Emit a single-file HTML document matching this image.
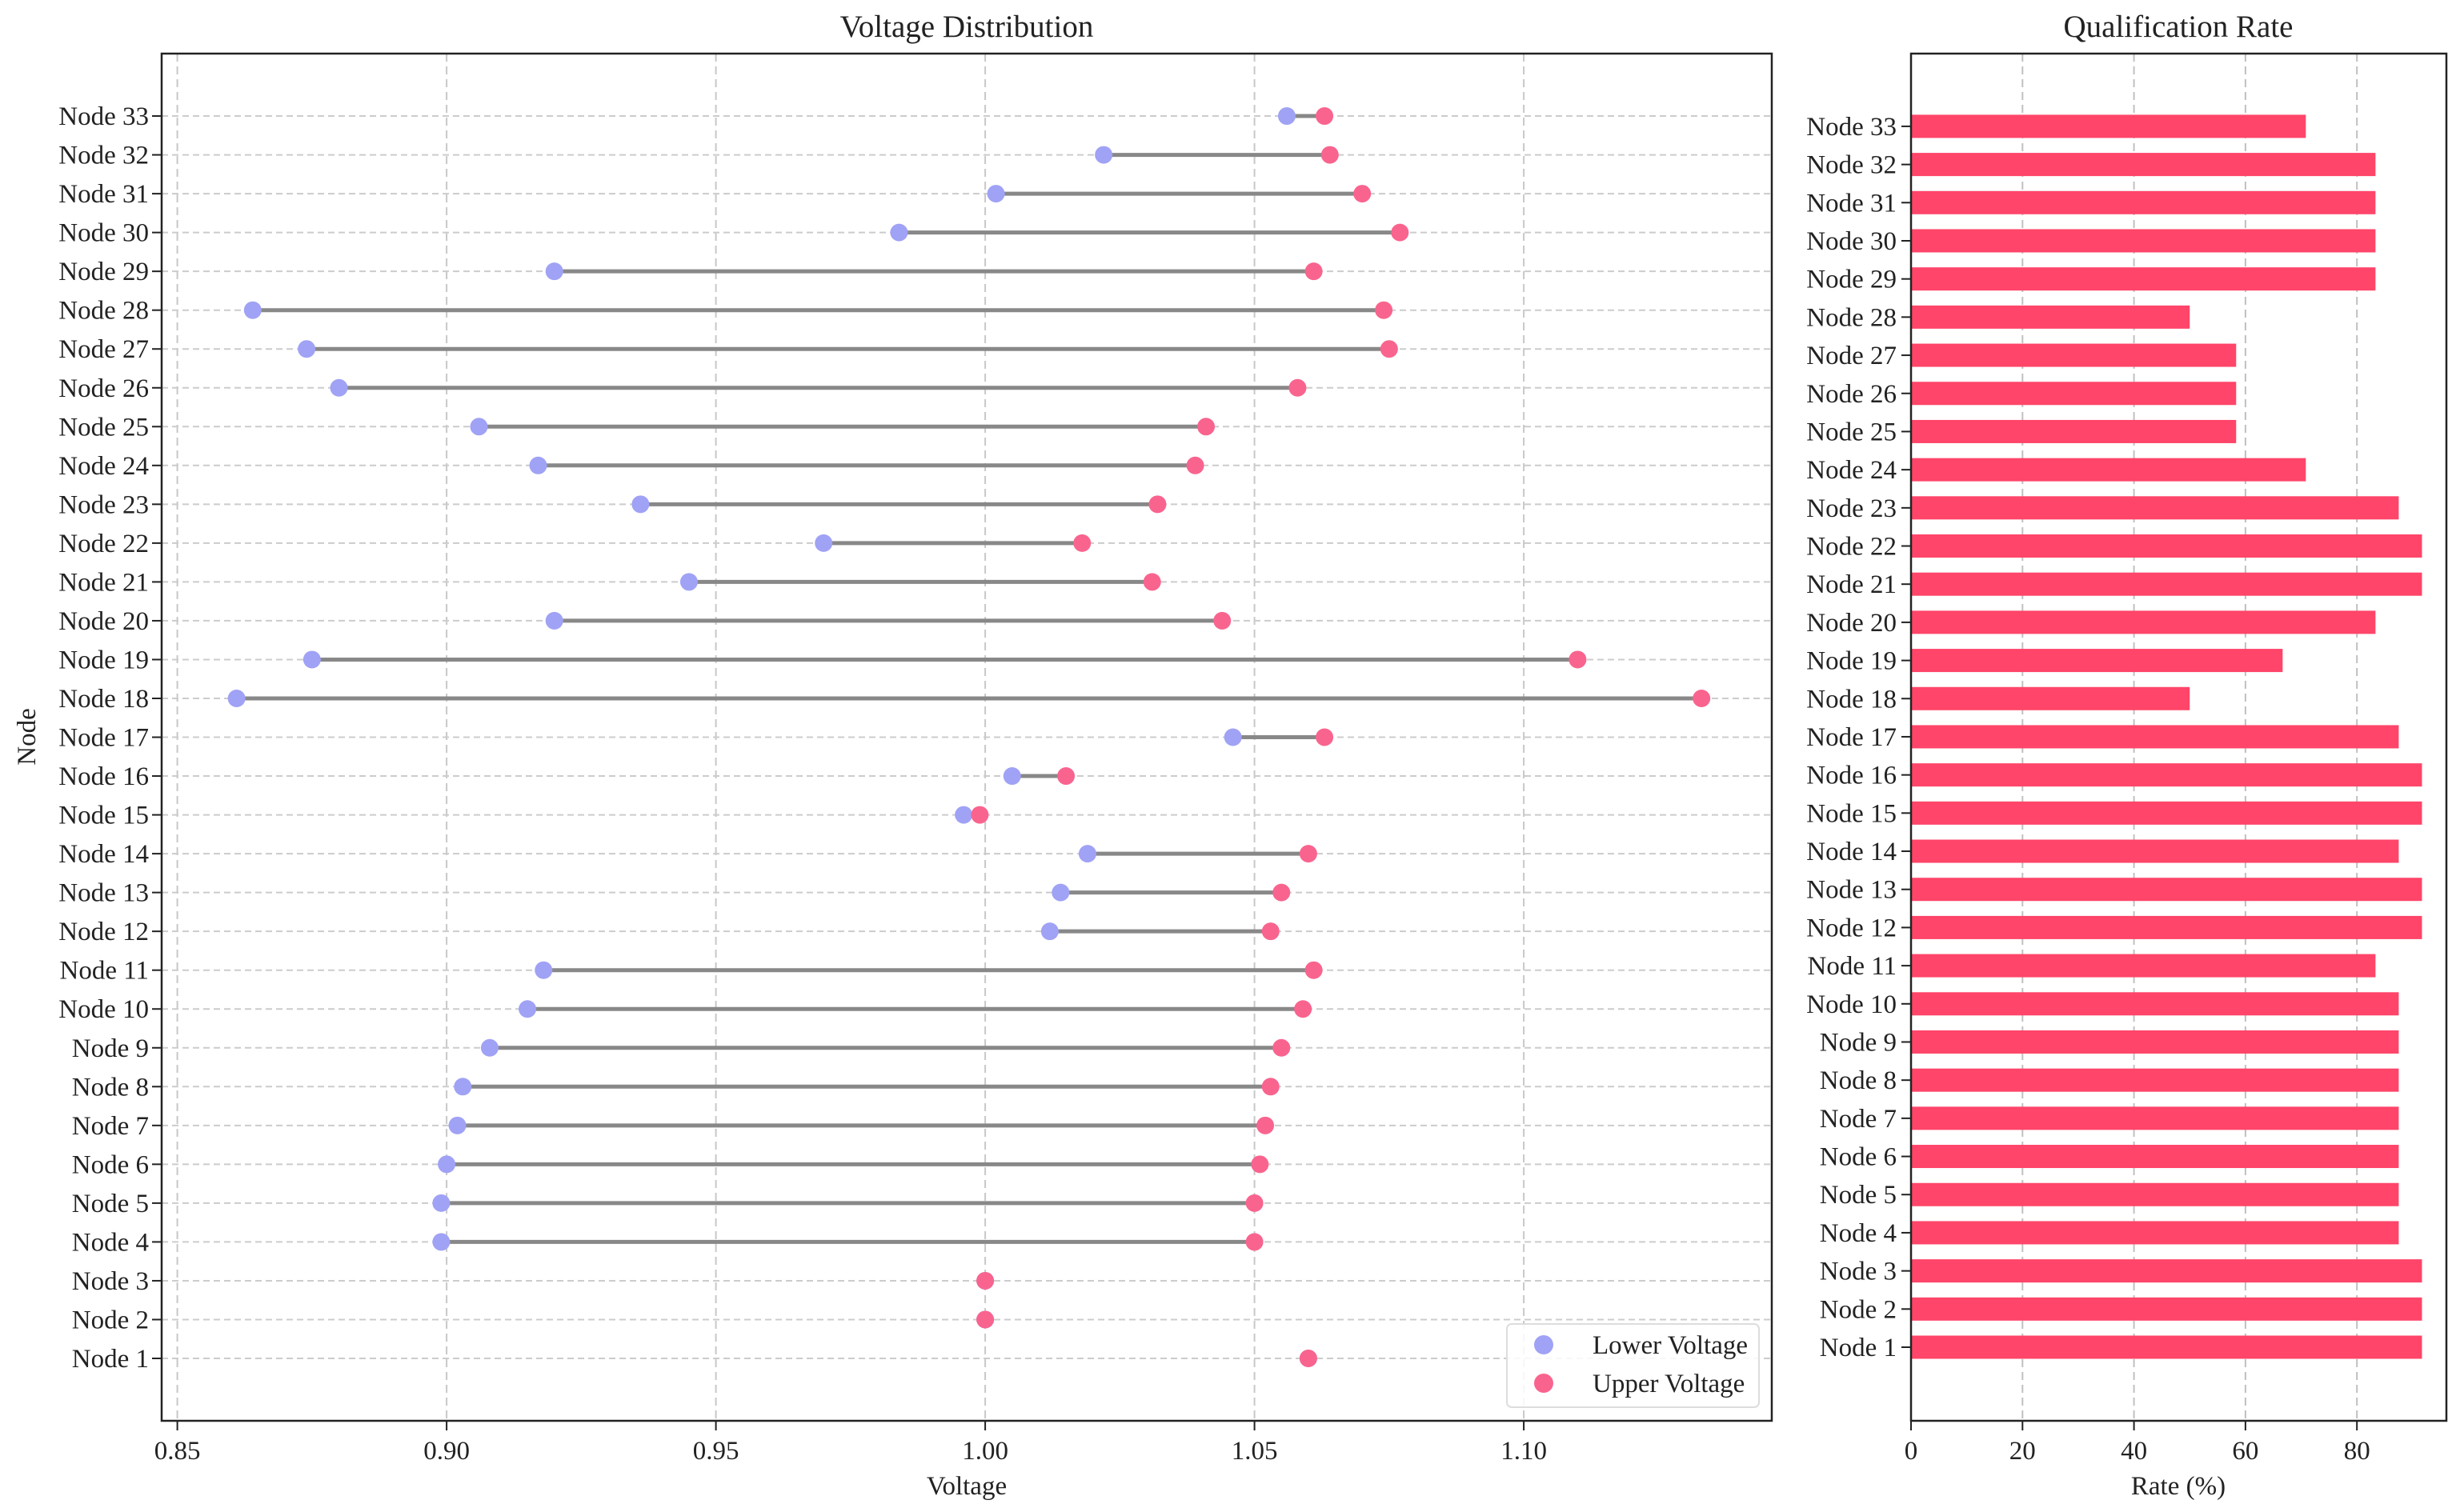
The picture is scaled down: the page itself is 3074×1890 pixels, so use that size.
<!DOCTYPE html>
<html><head><meta charset="utf-8"><style>
html,body{margin:0;padding:0;background:#fff}
svg{display:block}
text{font-family:"Liberation Serif",serif;fill:#222}
</style></head>
<body>
<svg id="chart" width="3074" height="1890" viewBox="0 0 3074 1890" xmlns="http://www.w3.org/2000/svg"></svg>
<script>
const nodes = Array.from({length:33},(_,i)=>'Node '+(i+1));
const lowerV = [1.060,1.000,1.000,0.899,0.899,0.900,0.902,0.903,0.908,0.915,0.918,1.012,1.014,1.019,0.996,1.005,1.046,0.861,0.875,0.920,0.945,0.970,0.936,0.917,0.906,0.880,0.874,0.864,0.920,0.984,1.002,1.022,1.056];
const upperV = [1.060,1.000,1.000,1.050,1.050,1.051,1.052,1.053,1.055,1.059,1.061,1.053,1.055,1.060,0.999,1.015,1.063,1.133,1.110,1.044,1.031,1.018,1.032,1.039,1.041,1.058,1.075,1.074,1.061,1.077,1.070,1.064,1.063];
const rates = [91.67,91.67,91.67,87.5,87.5,87.5,87.5,87.5,87.5,87.5,83.33,91.67,91.67,87.5,91.67,91.67,87.5,50,66.67,83.33,91.67,91.67,87.5,70.83,58.33,58.33,58.33,50,83.33,83.33,83.33,83.33,70.83];
const vTicks = [0.85,0.90,0.95,1.00,1.05,1.10];
const rTicks = [0,20,40,60,80];

const NS='http://www.w3.org/2000/svg';
const svg=document.getElementById('chart');
function mk(tag,attrs,parent){const e=document.createElementNS(NS,tag);for(const k in attrs)e.setAttribute(k,attrs[k]);(parent||svg).appendChild(e);return e;}
function txt(s,attrs,parent){const e=mk('text',attrs,parent);e.textContent=s;return e;}
const FS=33;

const L={x0:202,x1:2214,y0:67,y1:1776};
const xV=v=>221.6+(v-0.85)/0.05*336.5;
const yL=i=>1698-i*48.53;
const R={x0:2388,x1:3057,y0:67,y1:1776};
const xR=v=>2388+v/20*139.3;
const yR=i=>1684-i*47.69;

const gL=mk('g',{});


vTicks.forEach(t=>{
  const l=mk('line',{x1:xV(t),x2:xV(t),y1:L.y0,y2:L.y1,stroke:'#c8c8c8','stroke-width':2,'stroke-dasharray':'10,6'},gL);
  
  
});
nodes.forEach((n,i)=>{
  const l=mk('line',{x1:L.x0,x2:L.x1,y1:yL(i),y2:yL(i),stroke:'#cccccc','stroke-width':2,'stroke-dasharray':'8,5'},gL);
  
  
});
nodes.forEach((n,i)=>{
  const l=mk('line',{x1:xV(lowerV[i]),x2:xV(upperV[i]),y1:yL(i),y2:yL(i),stroke:'#888','stroke-width':5},gL);
  
  
});
nodes.forEach((n,i)=>{
  const c=mk('circle',{cx:xV(lowerV[i]),cy:yL(i),r:11,fill:'#a0a2f5'},gL);
  
  
});
nodes.forEach((n,i)=>{
  const c=mk('circle',{cx:xV(upperV[i]),cy:yL(i),r:11,fill:'#f9648f'},gL);
  
  
});
const fL=mk('rect',{x:L.x0,y:L.y0,width:L.x1-L.x0,height:L.y1-L.y0,fill:'none',stroke:'#222','stroke-width':2.5},gL);


vTicks.forEach(t=>{
  mk('line',{x1:xV(t),x2:xV(t),y1:L.y1,y2:L.y1+12,stroke:'#222','stroke-width':2},gL);
  const e=txt(t.toFixed(2),{x:xV(t),y:1824,'text-anchor':'middle','font-size':FS},gL);
  
  
});
nodes.forEach((n,i)=>{
  mk('line',{x1:L.x0-12,x2:L.x0,y1:yL(i),y2:yL(i),stroke:'#222','stroke-width':2},gL);
  const e=txt(n,{x:L.x0-16,y:yL(i)+11,'text-anchor':'end','font-size':FS},gL);
  
  
});
</script>
<script>
(function(){
const t1=txt('Voltage Distribution',{x:1208,y:46,'text-anchor':'middle','font-size':39});


const t2=txt('Voltage',{x:1208,y:1868,'text-anchor':'middle','font-size':FS});


const t3=txt('Node',{x:0,y:0,'text-anchor':'middle','font-size':FS,transform:'translate(44,921) rotate(-90)'});



const lg=mk('g',{});


mk('rect',{x:1883,y:1655,width:315,height:104,rx:6,fill:'rgba(255,255,255,0.85)',stroke:'#ddd','stroke-width':2},lg);
const c1=mk('circle',{cx:1929,cy:1681,r:12,fill:'#a0a2f5'},lg);


const l1=txt('Lower Voltage',{x:1990,y:1692,'font-size':FS},lg);


const c2=mk('circle',{cx:1929,cy:1729,r:12,fill:'#f9648f'},lg);


const l2=txt('Upper Voltage',{x:1990,y:1740,'font-size':FS},lg);



const gR=mk('g',{});


rTicks.forEach(t=>{
  if(t===0)return;
  const l=mk('line',{x1:xR(t),x2:xR(t),y1:R.y0,y2:R.y1,stroke:'#c0c0c0','stroke-width':2,'stroke-dasharray':'10,6'},gR);
  
  
});
nodes.forEach((n,i)=>{
  const b=mk('rect',{x:xR(0),y:yR(i)-14.5,width:xR(rates[i])-xR(0),height:29,fill:'#ff4569'},gR);
  
  
});
const fR=mk('rect',{x:R.x0,y:R.y0,width:R.x1-R.x0,height:R.y1-R.y0,fill:'none',stroke:'#222','stroke-width':2.5},gR);


rTicks.forEach(t=>{
  mk('line',{x1:xR(t),x2:xR(t),y1:R.y1,y2:R.y1+12,stroke:'#222','stroke-width':2},gR);
  const e=txt(String(t),{x:xR(t),y:1824,'text-anchor':'middle','font-size':FS},gR);
  
  
});
nodes.forEach((n,i)=>{
  mk('line',{x1:R.x0-12,x2:R.x0,y1:yR(i),y2:yR(i),stroke:'#222','stroke-width':2},gR);
  const e=txt(n,{x:R.x0-18,y:yR(i)+11,'text-anchor':'end','font-size':FS},gR);
  
  
});
const t4=txt('Qualification Rate',{x:2722,y:46,'text-anchor':'middle','font-size':39});


const t5=txt('Rate (%)',{x:2722,y:1868,'text-anchor':'middle','font-size':FS});


})();
</script>
</body></html>
